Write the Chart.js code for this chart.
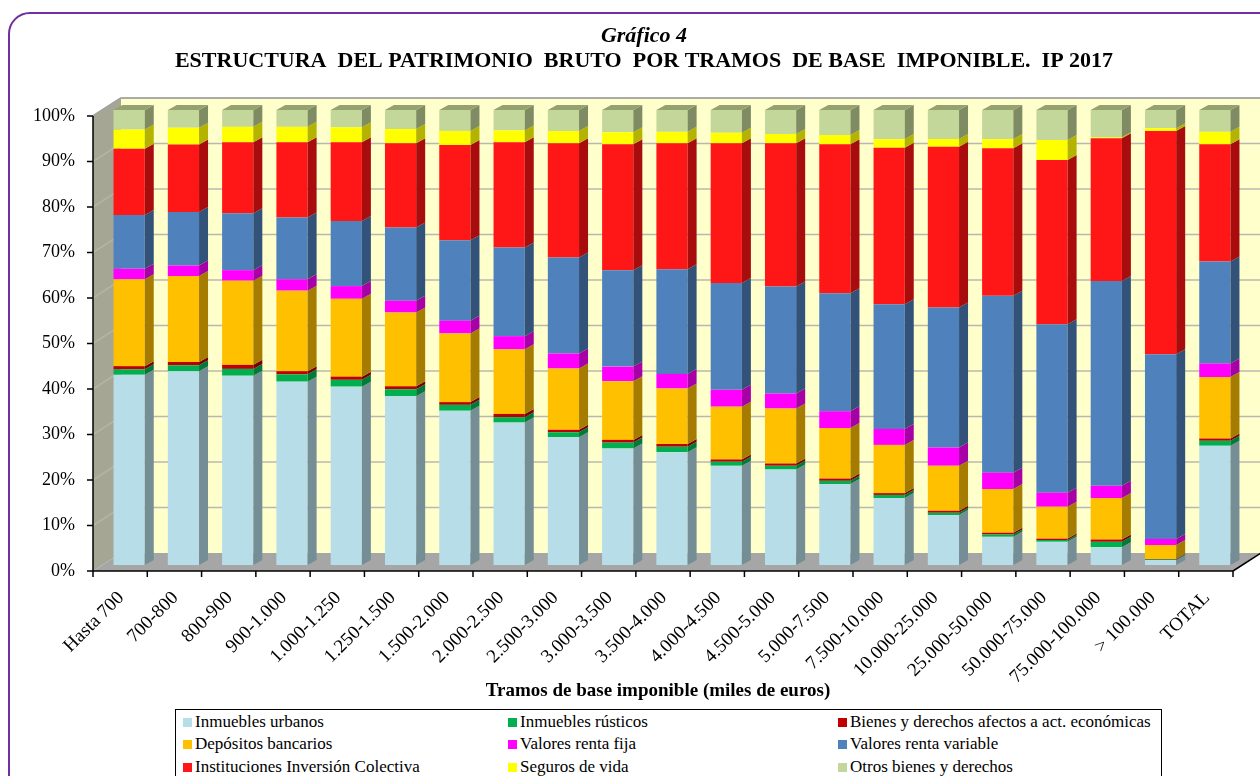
<!DOCTYPE html>
<html lang="es">
<head>
<meta charset="utf-8">
<script src="https://cdn.jsdelivr.net/npm/chart.js@4.4.1/dist/chart.umd.min.js"></script>
<style>
  body { margin: 0; width: 1260px; height: 776px; overflow: hidden; background: #fff; position: relative; font-family: "Liberation Serif", serif; }
  .marco { position: absolute; left: 8px; top: 12px; width: 1300px; height: 820px; border: 2px solid #7030A0; border-radius: 22px; }
  #grafico { position: absolute; left: 0; top: 0; }
  .leyenda { position: absolute; left: 175px; top: 709px; width: 985px; height: 90px; border: 1px solid #000; background: #fff; }
  .item { position: absolute; font-size: 17px; line-height: 20px; white-space: nowrap; }
  .item span { display: inline-block; width: 9px; height: 9px; margin-right: 3px; }
</style>
</head>
<body>
<div class="marco"></div>
<canvas id="grafico" width="1260" height="776"></canvas>
<div class="leyenda" id="leyenda"></div>
<script>
// tramos de base imponible (miles de euros)
const tramos = ['Hasta 700', '700-800', '800-900', '900-1.000', '1.000-1.250', '1.250-1.500', '1.500-2.000',
  '2.000-2.500', '2.500-3.000', '3.000-3.500', '3.500-4.000', '4.000-4.500', '4.500-5.000', '5.000-7.500',
  '7.500-10.000', '10.000-25.000', '25.000-50.000', '50.000-75.000', '75.000-100.000', '> 100.000', 'TOTAL'];

// % sobre el patrimonio bruto de cada tramo
const urbanos = [41.8, 42.6, 41.6, 40.3, 39.2, 37.1, 33.9, 31.3, 28.1, 25.6, 24.8, 21.8, 21.0, 17.8, 14.7, 11.0, 6.2, 5.1, 3.9, 1.1, 26.2];
const rusticos = [1.2, 1.3, 1.5, 1.6, 1.5, 1.5, 1.3, 1.2, 1.1, 1.3, 1.2, 0.9, 0.8, 0.7, 0.7, 0.5, 0.5, 0.4, 1.2, 0.1, 1.1];
const actEconomicas = [0.7, 0.7, 0.9, 0.7, 0.7, 0.7, 0.6, 0.7, 0.5, 0.6, 0.6, 0.5, 0.5, 0.5, 0.4, 0.4, 0.4, 0.3, 0.5, 0.1, 0.5];
const depositos = [19.1, 18.9, 18.5, 17.7, 17.1, 16.2, 15.1, 14.2, 13.5, 12.9, 12.2, 11.6, 12.1, 11.1, 10.6, 9.9, 9.6, 7.0, 9.1, 3.1, 13.5];
const rentaFija = [2.3, 2.3, 2.3, 2.5, 2.8, 2.6, 2.8, 2.9, 3.3, 3.2, 3.2, 3.7, 3.3, 3.7, 3.5, 4.0, 3.6, 3.1, 2.7, 1.3, 3.0];
const rentaVariable = [11.8, 11.8, 12.5, 13.6, 14.3, 16.1, 17.7, 19.5, 21.1, 21.2, 23.0, 23.5, 23.5, 25.9, 27.4, 30.8, 38.9, 37.0, 45.0, 40.6, 22.4];
const iic = [14.6, 14.8, 15.6, 16.5, 17.3, 18.5, 20.9, 23.1, 25.1, 27.7, 27.7, 30.7, 31.5, 32.8, 34.4, 35.3, 32.4, 36.1, 31.4, 49.1, 25.8];
const seguros = [4.2, 3.7, 3.4, 3.4, 3.3, 3.1, 3.1, 2.6, 2.7, 2.6, 2.5, 2.3, 2.0, 2.0, 1.9, 1.7, 2.0, 4.4, 0.2, 0.6, 2.7];
const otros = [4.3, 3.9, 3.7, 3.7, 3.8, 4.2, 4.6, 4.5, 4.6, 4.9, 4.8, 5.0, 5.3, 5.5, 6.4, 6.4, 6.4, 6.6, 6.0, 4.0, 4.8];

const series = [urbanos, rusticos, actEconomicas, depositos, rentaFija, rentaVariable, iic, seguros, otros];
const nombres = ['Inmuebles urbanos', 'Inmuebles rústicos', 'Bienes y derechos afectos a act. económicas',
  'Depósitos bancarios', 'Valores renta fija', 'Valores renta variable',
  'Instituciones Inversión Colectiva', 'Seguros de vida', 'Otros bienes y derechos'];
const colores = ['#B7DEE8', '#00B050', '#C00000', '#FFC000', '#FF00FF', '#4F81BD', '#FF1616', '#FFFF00', '#C4D79B'];
const coloresLado = ['#758E95', '#007A38', '#7A0000', '#A67C00', '#A600A6', '#32527A', '#A80C0C', '#B3B300', '#7F8B62'];
const colorTapa = '#95A16F';

const yTicks = [0, 10, 20, 30, 40, 50, 60, 70, 80, 90, 100];

const titulo = 'Gráfico 4';
const subtitulo = 'ESTRUCTURA  DEL PATRIMONIO  BRUTO  POR TRAMOS  DE BASE  IMPONIBLE.  IP 2017';
const tituloX = 'Tramos de base imponible (miles de euros)';

// desplazamientos del falso 3D
const FRENTE = { dx: -9, dy: 6 };
const FONDO = { dx: 19, dy: -12 };
const PROF = { dx: 9, dy: -5 };

const fuente = '"Liberation Serif", "Times New Roman", serif';

function poligono(ctx, pts, color) {
  ctx.beginPath();
  ctx.moveTo(pts[0][0], pts[0][1]);
  for (let i = 1; i < pts.length; i++) ctx.lineTo(pts[i][0], pts[i][1]);
  ctx.closePath();
  ctx.fillStyle = color;
  ctx.fill();
}

function linea(ctx, x1, y1, x2, y2) {
  ctx.beginPath();
  ctx.moveTo(x1, y1);
  ctx.lineTo(x2, y2);
  ctx.stroke();
}

const paredes = {
  id: 'paredes',
  beforeDatasetsDraw(chart) {
    const { ctx, chartArea: a, scales: { y } } = chart;
    const fl = a.left + FRENTE.dx, fr = a.right + FRENTE.dx, ft = a.top + FRENTE.dy, fb = a.bottom + FRENTE.dy;
    const bl = a.left + FONDO.dx, br = a.right + FONDO.dx, bt = a.top + FONDO.dy, bb = a.bottom + FONDO.dy;
    ctx.save();
    ctx.fillStyle = '#FFFFCC';
    ctx.fillRect(bl, bt, br - bl, bb - bt);
    poligono(ctx, [[fl, ft], [bl, bt], [bl, bb], [fl, fb]], '#A6A694');
    poligono(ctx, [[fl, fb], [fr, fb], [br, bb], [bl, bb]], '#A6A6A6');

    // lineas de division en la pared del fondo y la lateral
    ctx.lineWidth = 1.5;
    yTicks.forEach(v => {
      const py = y.getPixelForValue(v);
      if (v > 0) {
        ctx.strokeStyle = '#B8B8AE';
        linea(ctx, bl, py + FONDO.dy, br, py + FONDO.dy);
        ctx.strokeStyle = '#B4B4A4';
        linea(ctx, fl, py + FRENTE.dy, bl, py + FONDO.dy);
      }
    });
    ctx.strokeStyle = '#A0A0A0';
    linea(ctx, bl, bt, br, bt);
    linea(ctx, fl, ft, bl, bt);
    ctx.restore();
  },
  afterDatasetsDraw(chart) {
    const { ctx, chartArea: a, scales: { y } } = chart;
    ctx.save();
    // caras laterales y tapa de cada columna
    chart.data.datasets.forEach((ds, i) => {
      const meta = chart.getDatasetMeta(i);
      meta.data.forEach(bar => {
        const p = bar.getProps(['x', 'y', 'base', 'width'], true);
        if (Math.abs(p.base - p.y) < 0.2) return;
        const r = p.x + p.width / 2, l = p.x - p.width / 2;
        poligono(ctx, [[r, p.y], [r + PROF.dx, p.y + PROF.dy], [r + PROF.dx, p.base + PROF.dy], [r, p.base]], coloresLado[i]);
        if (i === series.length - 1) {
          poligono(ctx, [[l, p.y], [l + PROF.dx, p.y + PROF.dy], [r + PROF.dx, p.y + PROF.dy], [r, p.y]], colorTapa);
        }
      });
    });

    // ejes en el plano frontal
    const fl = a.left + FRENTE.dx, fr = a.right + FRENTE.dx, ft = a.top + FRENTE.dy, fb = a.bottom + FRENTE.dy;
    const br = a.right + FONDO.dx, bb = a.bottom + FONDO.dy;
    ctx.strokeStyle = '#000';
    ctx.lineWidth = 1.5;
    linea(ctx, fl, ft, fl, fb);
    linea(ctx, fl, fb, fr, fb);
    linea(ctx, fr, fb, br, bb);
    yTicks.forEach(v => {
      const py = y.getPixelForValue(v) + FRENTE.dy;
      linea(ctx, fl - 6, py, fl, py);
    });
    const paso = (a.right - a.left) / tramos.length;
    for (let i = 0; i <= tramos.length; i++) {
      const px = a.left + i * paso + FRENTE.dx;
      linea(ctx, px, fb, px, fb + 6);
    }
    ctx.restore();
  },
  afterDraw(chart) {
    const ctx = chart.ctx;
    ctx.save();
    ctx.fillStyle = '#000';
    ctx.textAlign = 'center';
    ctx.textBaseline = 'middle';
    ctx.font = 'italic bold 22px ' + fuente;
    ctx.fillText(titulo, 644, 36);
    ctx.font = 'bold 22px ' + fuente;
    ctx.fillText(subtitulo, 644, 61);
    ctx.font = 'bold 19px ' + fuente;
    ctx.fillText(tituloX, 658, 691);
    ctx.restore();
  }
};

const datasets = series.map((valores, i) => ({
  label: nombres[i],
  data: valores,
  backgroundColor: colores[i],
  borderWidth: 0,
  barPercentage: 0.575,
  categoryPercentage: 1
}));

new Chart(document.getElementById('grafico'), {
  type: 'bar',
  data: { labels: tramos, datasets: datasets },
  plugins: [paredes],
  options: {
    responsive: false,
    animation: false,
    layout: { padding: { left: 0, right: 18, top: 110, bottom: 0 } },
    plugins: {
      legend: { display: false },
      tooltip: { enabled: false }
    },
    scales: {
      x: {
        stacked: true,
        grid: { display: false, drawTicks: false },
        border: { display: false },
        ticks: {
          color: '#000',
          font: { family: fuente, size: 19 },
          autoSkip: false,
          maxRotation: 45,
          minRotation: 45,
          padding: 22,
          labelOffset: -8
        },
        afterFit: s => { s.height = 211; }
      },
      y: {
        stacked: true,
        min: 0,
        max: 100,
        grid: { display: false, drawTicks: false },
        border: { display: false },
        ticks: {
          stepSize: 10,
          color: '#000',
          font: { family: fuente, size: 18 },
          padding: 27,
          labelOffset: 6,
          callback: v => v + '%'
        },
        afterFit: s => { s.width = 102; }
      }
    }
  }
});

// leyenda en tres columnas
const leyenda = document.getElementById('leyenda');
const columnas = [7, 332, 662];
const filas = [2, 24, 47];
nombres.forEach((nombre, i) => {
  const item = document.createElement('div');
  item.className = 'item';
  item.style.left = columnas[i % 3] + 'px';
  item.style.top = filas[Math.floor(i / 3)] + 'px';
  item.innerHTML = `<span style="background:${colores[i]}"></span>${nombre}`;
  leyenda.append(item);
});
</script>
</body>
</html>
